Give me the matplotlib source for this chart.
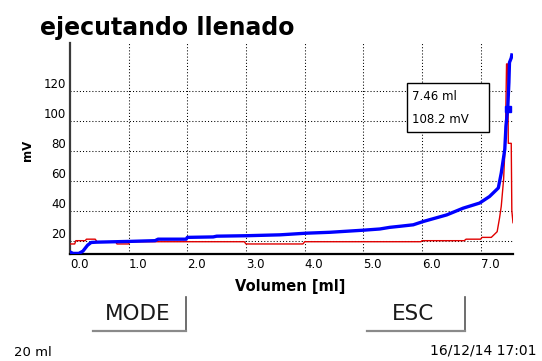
import matplotlib
matplotlib.use("Agg")
import matplotlib.pyplot as plt
import matplotlib.transforms as mtransforms
from matplotlib.lines import Line2D
from matplotlib.patches import Rectangle

# ---- data ----
title = "ejecutando llenado"
xlabel = "Volumen [ml]"
ylabel = "mV"
xticks = [0, 1, 2, 3, 4, 5, 6, 7]
xticklabels = ["0.0", "1.0", "2.0", "3.0", "4.0", "5.0", "6.0", "7.0"]
yticks = [20, 40, 60, 80, 100, 120]
yticklabels = ["20", "40", "60", "80", "100", "120"]

blue_x = [0.00, 0.05, 0.15, 0.22, 0.30, 0.36, 0.45, 1.00, 1.45, 1.50, 1.98, 2.00,
          2.44, 2.50, 3.00, 3.58, 4.03, 4.43, 5.00, 5.28, 5.45, 5.62, 5.85, 6.02,
          6.42, 6.70, 6.98, 7.15, 7.30, 7.35, 7.41, 7.43, 7.46, 7.48, 7.49, 7.52, 7.53]
blue_y = [12.5, 11.5, 11.5, 13.0, 17.0, 18.8, 19.0, 19.5, 20.0, 21.0, 21.0, 22.2,
          22.5, 23.0, 23.3, 23.9, 25.0, 25.6, 27.0, 27.8, 28.9, 29.6, 30.6, 32.8,
          37.2, 41.7, 45.1, 49.5, 55.2, 65.2, 81.0, 96.5, 108.2, 125.6, 139.0, 142.0, 144.0]

red_x = [0.00, 0.08, 0.10, 0.26, 0.28, 0.43, 0.46, 0.78, 0.80, 1.00, 1.02, 2.97,
         3.00, 3.97, 4.00, 5.98, 6.00, 6.72, 6.75, 7.00, 7.02, 7.18, 7.22, 7.28,
         7.32, 7.35, 7.39, 7.42, 7.44, 7.46, 7.47, 7.52, 7.53, 7.55]
red_y = [17.8, 17.8, 20.0, 20.0, 21.0, 21.0, 19.3, 19.3, 17.8, 17.8, 19.3, 19.3,
         17.8, 17.8, 19.3, 19.3, 20.0, 20.0, 21.0, 21.0, 22.2, 22.2, 23.7, 26.0,
         35.0, 43.0, 61.0, 88.0, 138.0, 138.0, 85.0, 85.0, 40.0, 32.0]

marker_x = 7.46
marker_y = 108.2
readout = ["7.46 ml", "108.2 mV"]
footer_left = "20 ml"
footer_right = "16/12/14 17:01"
buttons = ["MODE", "ESC"]

# ---- figure ----
W, H = 542, 361
fig = plt.figure(figsize=(W / 100, H / 100), dpi=100)
fig.patch.set_facecolor("white")

def fx(px):
    return px / W

def fy(py):
    return 1 - py / H

ax = fig.add_axes([fx(70), fy(254), fx(513) - fx(70), fy(43) - fy(254)])
ax.set_xlim(0, 7.55)
ax.set_ylim(11.1, 152)

for s in ["top", "right"]:
    ax.spines[s].set_visible(False)
ax.spines["left"].set_color("#3a3a3a")
ax.spines["left"].set_linewidth(1.6)
ax.spines["bottom"].set_color("black")
ax.spines["bottom"].set_linewidth(1.6)

# grid
for xv in xticks[1:]:
    ax.axvline(xv, color="black", lw=0.75, ls=(0, (1, 2)), zorder=1)
for yv in yticks:
    ax.axhline(yv, color="black", lw=0.75, ls=(0, (1, 2)), zorder=1)

ax.plot(red_x, red_y, color="#e00000", lw=1.0, zorder=3)
ax.plot(blue_x, blue_y, color="#0000ff", lw=2.4, zorder=4, solid_joinstyle="round")
ax.plot([marker_x], [marker_y], marker="s", color="#0000ff", ms=5, zorder=5)

ax.set_xticks(xticks)
ax.set_xticklabels(xticklabels)
ax.set_yticks(yticks)
ax.set_yticklabels(yticklabels)
ax.tick_params(length=0, labelsize=8.5, colors="black", pad=3)
for lab in ax.get_xticklabels():
    lab.set_horizontalalignment("left")
offset = mtransforms.ScaledTranslation(0, 0.08, fig.dpi_scale_trans)
for lab in ax.get_yticklabels():
    lab.set_transform(lab.get_transform() + offset)

# title & labels
fig.text(fx(40), fy(35), title, fontsize=17, fontweight="bold", ha="left", va="baseline")
fig.text(fx(28), fy(150), ylabel, fontsize=8.5, fontweight="bold", rotation=90,
         ha="center", va="center")
fig.text(fx(290), fy(287), xlabel, fontsize=10.5, fontweight="bold", ha="center", va="center")

# readout box
fig.add_artist(Rectangle((fx(407), fy(132)), fx(489) - fx(407), fy(83) - fy(132),
                         transform=fig.transFigure, facecolor="white", edgecolor="black",
                         lw=1.0, zorder=10))
fig.text(fx(412), fy(97), readout[0], fontsize=8.5, ha="left", va="center", zorder=11)
fig.text(fx(412), fy(120), readout[1], fontsize=8.5, ha="left", va="center", zorder=11)

# buttons
btn_specs = [(buttons[0], 138, 93, 186), (buttons[1], 413, 367, 465)]
for label, cx, x0, x1 in btn_specs:
    fig.text(fx(cx), fy(314), label, fontsize=15.5, ha="center", va="center",
             color="#1a1a1a", fontweight="medium")
    fig.add_artist(Line2D([fx(x1), fx(x1)], [fy(297), fy(331)], transform=fig.transFigure,
                          color="#555555", lw=1.2))
    fig.add_artist(Line2D([fx(x0), fx(x1)], [fy(330.5), fy(330.5)], transform=fig.transFigure,
                          color="#8a8a8a", lw=1.6))

# footer
fig.text(fx(14), fy(352), footer_left, fontsize=9.5, ha="left", va="center")
fig.text(fx(537), fy(351), footer_right, fontsize=10, ha="right", va="center")

fig.savefig("out.png", dpi=100)
